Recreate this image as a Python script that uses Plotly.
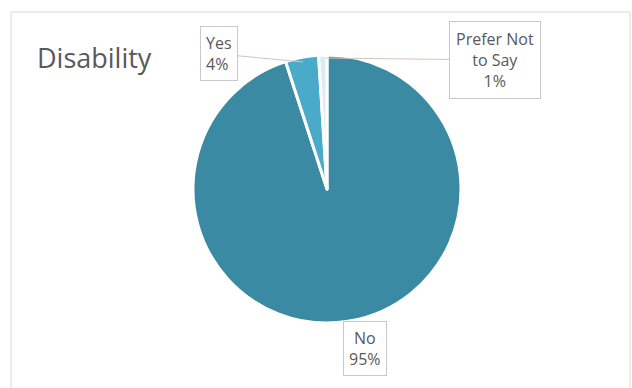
import plotly.graph_objects as go

W, H = 632, 388

labels = ["No", "Yes", "Prefer Not to Say"]
values = [95, 4, 1]
colors = ["#3b8aa3", "#4aaac9", "#dcecf2"]
title_text = "Disability"

def px(x):
    return x / W

def py(y):
    return 1 - y / H

# pie geometry (pixels)
cx, cy, D = 327, 189, 268

fig = go.Figure(go.Pie(
    labels=labels,
    values=values,
    sort=False,
    direction="clockwise",
    rotation=0,
    textinfo="none",
    hoverinfo="label+percent",
    marker=dict(colors=colors, line=dict(color="white", width=3)),
    domain=dict(x=[px(cx - D / 2), px(cx + D / 2)], y=[py(cy + D / 2), py(cy - D / 2)]),
    showlegend=False,
))

lab_font = dict(family="Open Sans, sans-serif", size=16, color="#595959")
total = sum(values)
pct = [f"{round(v * 100 / total)}%" for v in values]

annots = [
    # title
    dict(text=title_text, x=px(35), y=py(57), xanchor="left", yanchor="middle",
         showarrow=False, font=dict(family="Open Sans, sans-serif", size=27, color="#595959")),
    # Yes
    dict(text=f"{labels[1]}<br>{pct[1]}", x=px(303), y=py(62), ax=219 - 303, ay=54 - 62,
         showarrow=True, arrowhead=0, arrowwidth=1, arrowcolor="#d6c3bb",
         align="left", bordercolor="#c8c8c8", borderwidth=1, borderpad=5, bgcolor="white",
         font=lab_font),
    # Prefer Not to Say
    dict(text="Prefer Not<br>to Say<br>" + pct[2], x=px(326), y=py(58), ax=495 - 326, ay=60 - 58,
         showarrow=True, arrowhead=0, arrowwidth=1, arrowcolor="#d6c3bb",
         align="center", bordercolor="#c8c8c8", borderwidth=1, borderpad=6, bgcolor="white",
         font=lab_font),
    # No
    dict(text=f"{labels[0]}<br>{pct[0]}", x=px(365), y=py(348), xanchor="center", yanchor="middle",
         showarrow=False, align="center", bordercolor="#c8c8c8", borderwidth=1, borderpad=5,
         bgcolor="white", font=lab_font),
]

fig.update_layout(
    width=W, height=H,
    margin=dict(l=0, r=0, t=0, b=0),
    paper_bgcolor="white",
    plot_bgcolor="white",
    annotations=annots,
    shapes=[dict(type="rect", xref="paper", yref="paper",
                 x0=px(11), x1=px(630), y0=py(400), y1=py(12),
                 line=dict(color="#d9d9d9", width=1), layer="below")],
)

fig.write_html("out.html")
